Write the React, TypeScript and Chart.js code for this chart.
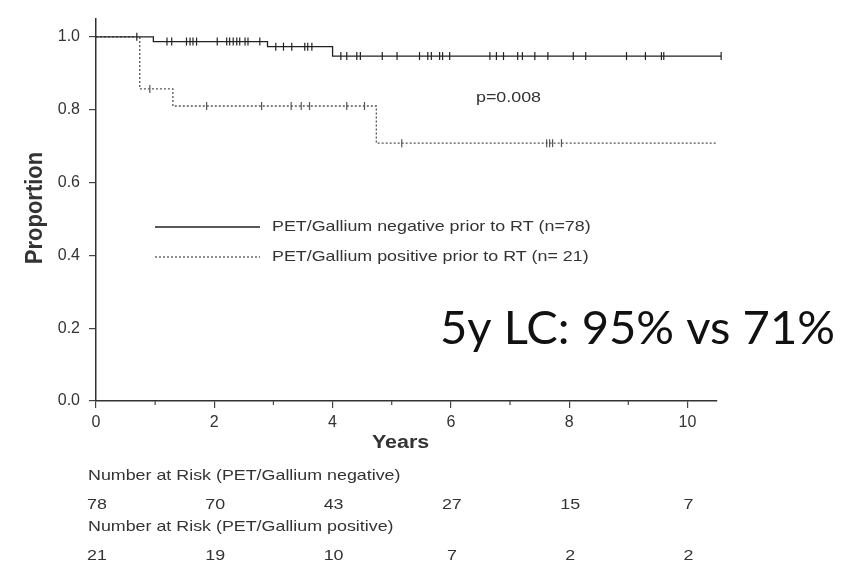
import React, { useEffect, useRef } from 'react';
import { Chart, registerables } from 'chart.js';

Chart.register(...registerables);

// ---------- data ----------
const xTicks = [0, 2, 4, 6, 8, 10];
const xMinorTicks = [1, 3, 5, 7, 9];
const yTicks = [0, 0.2, 0.4, 0.6, 0.8, 1.0];

const negLabel = 'PET/Gallium negative prior to RT (n=78)';
const negEventTimes = [0.97, 2.9, 4.0];
const negSurvival = [0.987, 0.973, 0.947];
const negEndTime = 10.57;
const negCensorTimes = [
  0.69, 1.2, 1.28, 1.53, 1.59, 1.64, 1.7, 2.05, 2.21, 2.26, 2.32, 2.38, 2.43, 2.52, 2.57, 2.77,
  3.04, 3.17, 3.31, 3.53, 3.58, 3.65,
  4.14, 4.24, 4.41, 4.47, 4.84, 5.09, 5.47, 5.61, 5.67, 5.81, 5.86, 5.98,
  6.66, 6.77, 6.89, 7.13, 7.21, 7.42, 7.64, 8.07, 8.28, 8.97, 9.29, 9.56, 9.6, 10.57,
];

const posLabel = 'PET/Gallium positive prior to RT (n= 21)';
const posEventTimes = [0.74, 1.3, 4.74];
const posSurvival = [0.857, 0.81, 0.708];
const posEndTime = 10.49;
const posCensorTimes = [0.91, 1.87, 2.8, 3.3, 3.47, 3.61, 4.24, 4.54, 5.17, 7.62, 7.67, 7.72, 7.87];

const riskTimes = [0, 2, 4, 6, 8, 10];
const riskNegative = [78, 70, 43, 27, 15, 7];
const riskPositive = [21, 19, 10, 7, 2, 2];
const riskHeaderNeg = 'Number at Risk (PET/Gallium negative)';
const riskHeaderPos = 'Number at Risk (PET/Gallium positive)';
const pValueText = 'p=0.008';
const summaryText = '5y LC: 95% vs 71%';
const xTitle = 'Years';
const yTitle = 'Proportion';

// ---------- helpers ----------
function survivalAt(t: number, times: number[], surv: number[]) {
  let s = 1;
  for (let i = 0; i < times.length; i++) if (times[i] <= t) s = surv[i];
  return s;
}
function curvePoints(times: number[], surv: number[], end: number) {
  const pts = [{ x: 0, y: 1 }];
  times.forEach((t, i) => pts.push({ x: t, y: surv[i] }));
  pts.push({ x: end, y: surv[surv.length - 1] });
  return pts;
}
function censorPoints(cens: number[], times: number[], surv: number[]) {
  return cens.map((t) => ({ x: t, y: survivalAt(t, times, surv) }));
}

const SX = 1.19;
const TEXT = '#333';
const FONT = '"Liberation Sans", Arial, sans-serif';

function drawText(
  ctx: CanvasRenderingContext2D,
  text: string,
  x: number,
  y: number,
  font: string,
  align: CanvasTextAlign = 'left',
  sx = SX,
  color = TEXT,
  rotate = 0,
) {
  ctx.save();
  ctx.translate(x, y);
  if (rotate) {
    ctx.rotate(rotate);
    ctx.scale(1, sx);
  } else {
    ctx.scale(sx, 1);
  }
  ctx.font = font;
  ctx.fillStyle = color;
  ctx.textAlign = align;
  ctx.textBaseline = 'middle';
  ctx.fillText(text, 0, 0);
  ctx.restore();
}

const annotations = {
  id: 'kmAnnotations',
  afterDraw(chart: any) {
    const ctx: CanvasRenderingContext2D = chart.ctx;
    const xs = chart.scales.x;
    const ys = chart.scales.y;
    ctx.save();
    // minor ticks
    ctx.strokeStyle = '#444';
    ctx.lineWidth = 1.2;
    xMinorTicks.forEach((v) => {
      const px = xs.getPixelForValue(v);
      ctx.beginPath();
      ctx.moveTo(px, ys.bottom);
      ctx.lineTo(px, ys.bottom + 4);
      ctx.stroke();
    });

    // axis titles
    drawText(ctx, xTitle, xs.getPixelForValue(5.15), 443, `bold 18px ${FONT}`, 'center');
    drawText(ctx, yTitle, 35, 208, `bold 22px ${FONT}`, 'center', 1.1, TEXT, -Math.PI / 2);

    // legend
    const ds = chart.data.datasets;
    const legendRows = [
      { y: 227, d: ds[0] },
      { y: 257, d: ds[1] },
    ];
    legendRows.forEach((r) => {
      ctx.save();
      ctx.strokeStyle = r.d.borderColor;
      ctx.lineWidth = r.d.borderWidth;
      ctx.setLineDash(r.d.borderDash || []);
      ctx.beginPath();
      ctx.moveTo(155, r.y);
      ctx.lineTo(260, r.y);
      ctx.stroke();
      ctx.restore();
      drawText(ctx, r.d.label, 272, r.y, `15px ${FONT}`);
    });

    // p-value
    drawText(ctx, pValueText, 476, 98, `15px ${FONT}`);

    // number at risk
    drawText(ctx, riskHeaderNeg, 88, 476, `15px ${FONT}`);
    riskTimes.forEach((t, i) =>
      drawText(ctx, String(riskNegative[i]), xs.getPixelForValue(t) + 1, 505, `15px ${FONT}`, 'center'),
    );
    drawText(ctx, riskHeaderPos, 88, 527, `15px ${FONT}`);
    riskTimes.forEach((t, i) =>
      drawText(ctx, String(riskPositive[i]), xs.getPixelForValue(t) + 1, 556, `15px ${FONT}`, 'center'),
    );

    // big summary text
    ctx.save();
    ctx.font = `46px Lato, "Open Sans", sans-serif`;
    const w = ctx.measureText(summaryText).width;
    const targetW = 395;
    ctx.translate(440, 344);
    ctx.scale(targetW / w, 1);
    ctx.fillStyle = '#111';
    ctx.textBaseline = 'alphabetic';
    ctx.textAlign = 'left';
    ctx.fillText(summaryText, 0, 0);
    ctx.restore();

    ctx.restore();
  },
};

export default function App() {
  const ref = useRef<HTMLCanvasElement | null>(null);

  useEffect(() => {
    if (!ref.current) return;
    const censorStyle = {
      showLine: false,
      pointStyle: 'line',
      rotation: 90,
      pointRadius: 4,
      pointHoverRadius: 4,
      borderWidth: 1.2,
      clip: false,
    };
    const chart = new Chart(ref.current, {
      type: 'scatter',
      data: {
        datasets: [
          {
            label: negLabel,
            data: curvePoints(negEventTimes, negSurvival, negEndTime),
            showLine: true,
            stepped: 'before',
            borderColor: '#222',
            borderWidth: 1.3,
            pointRadius: 0,
            clip: false,
          },
          {
            label: posLabel,
            data: curvePoints(posEventTimes, posSurvival, posEndTime),
            showLine: true,
            stepped: 'before',
            borderColor: '#555',
            borderDash: [2, 2],
            borderWidth: 1.3,
            pointRadius: 0,
            clip: false,
          },
          {
            label: 'neg censored',
            data: censorPoints(negCensorTimes, negEventTimes, negSurvival),
            borderColor: '#222',
            backgroundColor: '#222',
            ...censorStyle,
          },
          {
            label: 'pos censored',
            data: censorPoints(posCensorTimes, posEventTimes, posSurvival),
            borderColor: '#555',
            backgroundColor: '#555',
            ...censorStyle,
          },
        ] as any,
      },
      options: {
        animation: false,
        responsive: false,
        events: [],
        layout: { padding: { top: 12, right: 144, left: 0, bottom: 0 } },
        plugins: { legend: { display: false }, tooltip: { enabled: false } },
        scales: {
          x: {
            type: 'linear',
            min: 0,
            max: 10.5,
            afterBuildTicks: (s: any) => {
              s.ticks = xTicks.map((v) => ({ value: v }));
            },
            afterFit: (s: any) => {
              s.height = 170;
            },
            grid: { drawOnChartArea: false, drawTicks: true, tickLength: 7, color: '#444', lineWidth: 1.2 },
            border: { color: '#333', width: 1.5 },
            ticks: {
              color: TEXT,
              font: { family: FONT, size: 16 },
              padding: 5,
              maxRotation: 0,
              callback: (v: any) => String(v),
            },
          },
          y: {
            type: 'linear',
            min: 0,
            max: 1.05,
            afterBuildTicks: (s: any) => {
              s.ticks = yTicks.map((v) => ({ value: v }));
            },
            afterFit: (s: any) => {
              s.width = 96;
            },
            grid: { drawOnChartArea: false, drawTicks: true, tickLength: 7, color: '#444', lineWidth: 1.2 },
            border: { color: '#333', width: 1.5 },
            ticks: {
              color: TEXT,
              font: { family: FONT, size: 16 },
              padding: 9,
              callback: (v: any) => Number(v).toFixed(1),
            },
          },
        },
      } as any,
      plugins: [annotations],
    });
    return () => chart.destroy();
  }, []);

  return (
    <div style={{ position: 'absolute', left: 0, top: 0, width: 861, height: 571, background: '#fff' }}>
      <canvas ref={ref} width={861} height={571} />
    </div>
  );
}
